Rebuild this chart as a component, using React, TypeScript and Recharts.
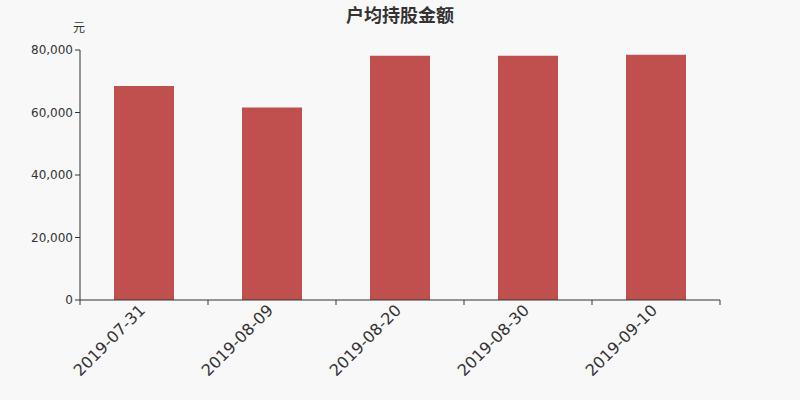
import React from 'react';
import { BarChart, Bar, XAxis, YAxis } from 'recharts';

const dates = ['2019-07-31', '2019-08-09', '2019-08-20', '2019-08-30', '2019-09-10'];
const amounts = [68500, 61600, 78200, 78200, 78500];
const yTicks = [0, 20000, 40000, 60000, 80000];

const data = dates.map((d, i) => ({ date: d, value: amounts[i] }));

const FONT = '"DejaVu Sans", "Noto Sans CJK SC", sans-serif';
const TICK = 5;

// rotated category label at the band centre, plus tick marks on the band edges
const DateTick = ({ x, y, payload, width, visibleTicksCount, index }: any) => {
  const half = width / visibleTicksCount / 2;
  const last = index === visibleTicksCount - 1;
  return (
    <g transform={`translate(${x},${y})`}>
      <line x1={-half} x2={-half} y1={-TICK} y2={0} stroke="#333" />
      {last && <line x1={half} x2={half} y1={-TICK} y2={0} stroke="#333" />}
      <text
        transform="rotate(-45)"
        textAnchor="end"
        x={-3}
        y={6}
        fontSize={16}
        fill="#333"
        fontFamily={FONT}
      >
        {payload.value}
      </text>
    </g>
  );
};

export default function App() {
  return (
    <div style={{ position: 'absolute', left: 0, top: 0, width: 800, height: 400, background: '#f8f8f8', fontFamily: FONT }}>
      <div style={{ position: 'absolute', top: 2, left: 0, width: 800, textAlign: 'center', fontSize: 18, fontWeight: 'bold', color: '#333', fontFamily: '"Noto Sans CJK SC", sans-serif', lineHeight: '24px' }}>
        户均持股金额
      </div>
      <div style={{ position: 'absolute', top: 19, left: 73, fontSize: 12, color: '#333', fontFamily: '"Noto Sans CJK SC", sans-serif', lineHeight: '16px' }}>
        元
      </div>
      <BarChart
        width={800}
        height={400}
        data={data}
        margin={{ top: 50, right: 80, left: 20, bottom: 0 }}
        barCategoryGap={0}
      >
        <XAxis
          dataKey="date"
          height={100}
          tick={<DateTick />}
          tickLine={false}
          tickSize={TICK}
          tickMargin={0}
          axisLine={{ stroke: '#333' }}
          interval={0}
        />
        <YAxis
          width={60}
          domain={[0, 80000]}
          ticks={yTicks}
          interval={0}
          tickSize={TICK}
          tickLine={{ stroke: '#333' }}
          axisLine={{ stroke: '#333' }}
          tick={{ fontSize: 12, fill: '#333', fontFamily: FONT }}
          tickFormatter={(v: number) => v.toLocaleString('en-US')}
        />
        <Bar dataKey="value" fill="#c0504d" barSize={60} isAnimationActive={false} />
      </BarChart>
    </div>
  );
}
